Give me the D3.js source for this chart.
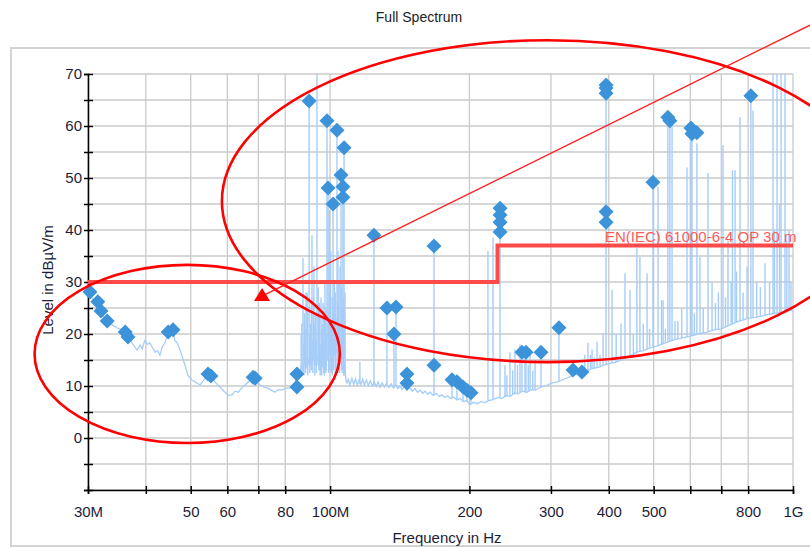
<!DOCTYPE html>
<html>
<head>
<meta charset="utf-8">
<script src="https://cdn.jsdelivr.net/npm/d3@7"></script>
<style>
  body { margin: 0; background: #fff; }
  svg { display: block; font-family: "Liberation Sans", Arial, sans-serif; }
</style>
</head>
<body>
<svg width="810" height="548"></svg>
<script>
// axis ticks
var xTicks = [30, 40, 50, 60, 70, 80, 100, 200, 300, 400, 500, 600, 700, 800, 1000];
var xTickLabels = ["30M", "", "50", "60", "", "80", "100M", "200", "300", "400", "500", "", "", "800", "1G"];
var yTicks = [-10, -5, 0, 5, 10, 15, 20, 25, 30, 35, 40, 45, 50, 55, 60, 65, 70];

// measured trace (MHz, dBuV/m) - noise floor
var baseF = [30, 30.6, 31.2, 31.8, 32.5, 33, 33.8, 34.6, 35.4, 36.1, 36.6, 37.4, 38.3, 38.9, 39.3, 39.8, 40.3, 40.8, 41.4, 41.9,
  42.4, 42.9, 43.4, 44, 44.7, 45.3, 45.8, 46.2, 46.8, 47.4, 48.2, 48.8, 49.3, 50.2, 51.1, 52.4, 53.2, 54.5, 55.3, 56.4,
  57.8, 59.3, 60.3, 61.4, 62.3, 63.3, 64.4, 65.5, 67, 68.2, 69.2, 70.6, 72, 73.4, 74.6, 76, 77.3, 78.7, 80.3, 81.9,
  83, 84, 84.8, 85.5, 86.1, 86.6, 87.4, 88.3, 89.2, 90.1, 91, 92, 93, 94, 95, 96, 97, 98, 99, 100,
  101, 102, 103, 104, 105, 106, 107, 107.7, 108.3, 108.8, 109.5, 110.4, 111.5, 112.5, 113.5, 114.5, 115.5, 116.6, 117.6, 118.6,
  119.8, 121, 122.2, 123.4, 124.6, 125.8, 127, 128.2, 129.6, 131, 132.4, 134, 135.5, 137, 138.5, 140, 141.6, 143, 144.8, 146.6,
  148.5, 150.5, 152.5, 154.5, 156.5, 158.5, 160.5, 162.5, 164.5, 167, 169.5, 172, 174.5, 177, 179.5, 182, 185, 188, 191, 194,
  197, 200.6, 204, 208, 212, 216, 220, 225, 230, 235, 240, 245, 250, 255, 260, 266, 272, 278, 285, 292,
  300, 310, 320, 330, 340, 350, 360, 370, 380, 390, 400, 415, 430, 445, 460, 475, 490, 505, 520, 540,
  560, 580, 600, 625, 650, 675, 700, 725, 750, 775, 800, 830, 860, 890, 920, 950, 975, 990, 1000];
var baseL = [28.5, 27, 26, 24.6, 23.2, 22.5, 21.8, 21.2, 20.9, 20.4, 19.6, 18.2, 16.9, 17.9, 17.2, 18.8, 18, 18.3, 17.3, 16.5,
  16.8, 15.9, 17.5, 18.3, 20.4, 21.4, 20.8, 18.8, 18.2, 17, 15, 13.5, 12.1, 11.2, 10.8, 10.2, 11, 12.3, 12, 10.8,
  9.8, 8.8, 8.2, 8.3, 9, 8.8, 9.6, 10.2, 11, 11.7, 11.2, 10.2, 9.8, 9.6, 9.2, 8.8, 9.3, 9.2, 9.6, 9.6,
  10.2, 10.5, 12.3, 11.2, 12.5, 14, 13, 15, 13.5, 15, 14, 16, 14, 15.5, 13, 14.5, 13, 15, 16, 17,
  15, 16, 17, 16, 15.5, 16, 15, 13, 11, 10.6, 11.3, 10.2, 11.5, 10.3, 11.4, 10.2, 11.2, 10.3, 11.3, 10.2,
  11.2, 10.1, 11, 10, 10.8, 9.9, 10.8, 9.8, 10.6, 9.8, 10.5, 9.7, 10.4, 9.6, 10.2, 9.5, 10, 9.3, 9.9, 9.2,
  9.7, 9, 9.5, 8.8, 9.2, 8.6, 9, 8.4, 8.8, 8.2, 8.6, 8, 8.3, 7.8, 8.1, 7.6, 7.9, 7.3, 7.6, 7,
  7.2, 6.4, 6.9, 6.6, 7, 6.8, 7.2, 7.4, 7.8, 7.6, 8.2, 8, 8.6, 8.5, 9, 8.8, 9.3, 9.2, 9.8, 10,
  10.5, 10.8, 11.3, 11.8, 12.3, 12.6, 13, 13.4, 13.6, 14, 14.3, 14.6, 15.2, 15.8, 16.5, 16.8, 17.3, 17.6, 18, 18.6,
  19, 19.3, 19.6, 20, 20.3, 20.8, 21, 21.6, 22.2, 22.6, 23, 23.2, 23.5, 23.8, 24, 24.2, 24.3, 24.8, 24.2];

// emission lines on the trace: frequency, foot level, top level
var spikeF = [86.6, 87.4, 88, 88.7, 89.2, 90.1, 90.8, 91.4, 92, 92.3, 93, 93.7, 94.3, 94.9, 95.6, 96.3, 96.6, 97.5, 98.5, 99,
  99.6, 100.3, 101.5, 102.2, 103.5, 104, 105.1, 105.6, 106.6, 107.2, 107.7, 116, 124.4, 132.7, 137.4, 138.8, 146.6, 167.7, 183.4, 188,
  193.7, 197.6, 201.6, 219.3, 224.9, 232.9, 238.7, 241, 244.7, 248, 250.9, 254, 257.2, 259.7, 263.7, 265, 268, 270.4, 274, 277.2,
  285.5, 312.2, 355, 360.6, 365, 368, 372, 377.3, 383, 388.9, 394.6, 406.5, 415, 425, 433.6, 444.5, 452, 460, 467, 475,
  483.9, 490, 498.3, 511, 520, 524, 530, 536.7, 542, 547.9, 556, 564, 575, 590.2, 602, 605, 612, 620, 629.6, 640,
  655.3, 668.5, 680, 690, 706, 715, 723.8, 735, 740, 749.5, 755, 768.2, 780, 795.6, 811, 819.6, 835, 850, 870, 890,
  905.5, 912, 923.6, 935, 942.3, 961, 970, 980.5, 990,
  86.9, 87.8, 88.5, 89.5, 90.4, 91.1, 91.8, 92.7, 93.4, 94.6, 95.2, 95.9, 96.9, 97.2, 97.9, 98.2, 99.3, 100, 100.7, 101.1,
  101.8, 102.6, 103, 103.9, 104.5, 104.8, 105.9, 106.2, 107, 107.5];
var spikeFoot = [14, 13, 14, 14, 13.5, 15, 14, 14, 16, 15, 14, 14, 15, 14, 13, 14, 14, 13, 15, 16,
  16, 17, 15, 16, 17, 16, 15.5, 15.5, 16, 15, 13, 10.3, 10, 10.5, 9.6, 10, 9.2, 8.2, 7.6, 7.3,
  7, 7.1, 6.5, 7.2, 7.4, 7.8, 7.8, 8, 8, 8.4, 8.5, 8.5, 8.7, 9, 8.8, 8.8, 9, 9.3, 9.2, 9.3,
  9.8, 10.9, 12.8, 13, 13.2, 13.3, 13.4, 13.5, 13.8, 14, 14.2, 14.4, 14.6, 15, 15.2, 15.8, 16, 16.5, 16.6, 16.8,
  17, 17.3, 17.5, 17.8, 18, 18.1, 18.3, 18.5, 18.6, 18.7, 18.9, 19, 19.2, 19.4, 19.6, 19.6, 19.8, 20, 20.1, 20.2,
  20.4, 20.6, 20.8, 20.9, 21.1, 21.3, 21.5, 21.8, 21.9, 22.2, 22.3, 22.5, 22.8, 23, 23, 23.1, 23.2, 23.4, 23.5, 23.8,
  23.9, 23.9, 24, 24, 24.1, 24.2, 24.2, 24.3, 24.6,
  12.5, 12, 12.5, 12, 12.5, 13, 12.5, 12, 12.5, 13, 12, 12, 12.5, 12, 12.5, 13, 12.5, 13, 12.5, 12,
  13, 12.5, 13, 12.5, 13, 12.5, 13, 12.5, 12, 12];
var spikeTop = [20, 34.6, 24, 28, 28, 64.8, 22, 39, 27, 33, 24, 75, 29, 26, 27, 22, 26, 30, 61, 48,
  43.8, 36, 45, 30, 59.2, 36, 33, 50.6, 48.3, 55.8, 28, 14.6, 39, 25, 20, 25.2, 12.3, 36.9, 11.2, 10.8,
  9.8, 9.2, 8.7, 36, 38.5, 44.2, 14, 12, 16.5, 13, 17, 14, 18, 16.5, 17.5, 16.5, 14, 16, 13, 15,
  16.5, 21.2, 16, 18.3, 16, 17, 15.5, 18.5, 16, 20.2, 67.9, 28.5, 20, 22, 31.7, 28.5, 20, 36.5, 34.8, 22,
  31.7, 21, 49.2, 48.3, 26.5, 26.5, 21, 61.7, 61, 59.8, 22.5, 22.5, 25, 52, 59.6, 58.5, 24, 56.7, 34.8, 25,
  51, 30, 26, 28, 56.3, 27, 38, 30, 51.5, 51.5, 32, 61.7, 28, 33, 65.8, 63, 30, 29, 33.6, 30,
  80, 40, 80, 45, 80, 80, 38, 40, 30,
  22, 18, 21, 25, 20, 26, 19, 22, 19, 22, 18, 21, 19, 23, 25, 20, 24, 28, 22, 27,
  24, 28, 23, 26, 30, 22, 29, 25, 27, 24];

// QP peak markers
var peakF = [30.3, 31.5, 32, 33, 36.1, 36.6, 44.7, 45.8, 54.5, 55.3, 68.2, 68.9, 84.8, 84.8, 90.1, 98.5, 103.5, 107.2, 105.6, 106.6,
  99, 106.6, 101.5, 124.4, 167.7, 132.7, 138.8, 137.4, 167.7, 146.6, 146.6, 183.4, 188, 193.7, 197.6, 201.6, 232.9, 232.9, 232.9, 232.9,
  259.7, 265, 285.5, 312.2, 334.8, 350, 394.6, 394.6, 394.6, 394.6, 394.6, 498.3, 536.7, 542, 602, 605, 620, 811];
var peakL = [28.1, 26.2, 24.4, 22.5, 20.4, 19.4, 20.4, 20.8, 12.3, 11.9, 11.7, 11.5, 12.3, 9.8, 64.8, 61, 59.2, 55.8, 50.6, 48.3,
  48.1, 46.3, 45, 39, 36.9, 25, 25.2, 20, 14, 12.3, 10.6, 11.2, 10.8, 9.8, 9.2, 8.7, 44.2, 42.9, 41.5, 39.6,
  16.5, 16.5, 16.5, 21.2, 13.1, 12.7, 67.9, 67.3, 66.3, 43.5, 41.5, 49.2, 61.7, 61, 59.6, 58.5, 58.7, 65.8];

// limit line EN(IEC) 61000-6-4 QP 30 m
var limitF = [30, 230, 230, 1000];
var limitL = [30, 30, 37, 37];

// hand-drawn annotations (bounds in MHz / dB)
var ringF = [[23.0, 105], [58.4, 1496]];
var ringL = [[-0.96, 33.3], [14.6, 76.5]];
var arrowF = [1088, 71.3];
var arrowL = [79.4, 27.3];

var svg = d3.select('svg');

svg.append("rect")
  .attr("width", 810).attr("height", 548).attr("fill", "#fff");

// outer panel
svg.append("rect")
  .attr("x", 11).attr("y", 48).attr("width", 830).attr("height", 498)
  .attr("fill", "#fff").attr("stroke", "#d3d3d3").attr("stroke-width", 2);

svg.append("text")
  .attr("x", 419).attr("y", 22)
  .attr("text-anchor", "middle")
  .attr("font-size", 14).attr("fill", "#222")
  .text("Full Spectrum");

var x = d3.scaleLog().domain([30, 1000]).range([88, 793]);
var y = d3.scaleLinear().domain([-10, 70]).range([490, 74]);

// grid
svg.append("g").selectAll("line")
  .data(xTicks).enter().append("line")
  .attr("x1", function(d) { return x(d); }).attr("x2", function(d) { return x(d); })
  .attr("y1", y(70)).attr("y2", y(-10))
  .attr("stroke", "#cacaca").attr("stroke-width", 1.3);
svg.append("g").selectAll("line")
  .data(yTicks).enter().append("line")
  .attr("x1", x(30)).attr("x2", x(1000))
  .attr("y1", function(d) { return y(d); }).attr("y2", function(d) { return y(d); })
  .attr("stroke", "#cacaca").attr("stroke-width", 1.3);

svg.append("clipPath").attr("id", "plot")
  .append("rect").attr("x", 88).attr("y", 74).attr("width", 705).attr("height", 416);

var plot = svg.append("g").attr("clip-path", "url(#plot)");

var trace = baseF.map(function(f, i) { return [f, baseL[i]]; });
var line = d3.line()
  .x(function(d) { return x(d[0]); })
  .y(function(d) { return y(d[1]); });

plot.append("path")
  .datum(trace)
  .attr("d", line)
  .attr("fill", "none")
  .attr("stroke", "#a6cdf8")
  .attr("stroke-width", 1.3);

plot.append("g").selectAll("line")
  .data(spikeF).enter().append("line")
  .attr("x1", function(d) { return x(d); }).attr("x2", function(d) { return x(d); })
  .attr("y1", function(d, i) { return y(spikeFoot[i]); })
  .attr("y2", function(d, i) { return y(spikeTop[i]); })
  .attr("stroke", "#a6cdf8")
  .attr("stroke-width", 1.4);

// axes
var xAxis = svg.append("g")
  .attr("transform", "translate(0," + y(-10) + ")")
  .call(d3.axisBottom(x).tickValues(xTicks).tickSizeOuter(0).tickSize(4).tickPadding(12)
    .tickFormat(function(d, i) { return xTickLabels[i]; }));
xAxis.selectAll(".tick line").attr("y1", -4).attr("y2", 4);

var yAxis = svg.append("g")
  .attr("transform", "translate(" + x(30) + ",0)")
  .call(d3.axisLeft(y).tickValues(yTicks).tickSizeOuter(0).tickSize(4).tickPadding(2)
    .tickFormat(function(d) { return (d % 10 === 0 && d > -10) ? d : ""; }));
yAxis.selectAll(".tick line").attr("x1", -4).attr("x2", 5);

[xAxis, yAxis].forEach(function(a) {
  a.select(".domain").attr("stroke", "#000").attr("stroke-width", 1.5);
  a.selectAll(".tick line").attr("stroke", "#000").attr("stroke-width", 1.5);
  a.selectAll("text").attr("font-size", 15).attr("fill", "#1d1d38")
    .attr("font-family", "'Liberation Sans', Arial, sans-serif");
});

svg.append("text")
  .attr("transform", "translate(53,280) rotate(-90)")
  .attr("text-anchor", "middle")
  .attr("font-size", 15).attr("fill", "#1d1d38")
  .text("Level in dBµV/m");

svg.append("text")
  .attr("x", 447).attr("y", 543)
  .attr("text-anchor", "middle")
  .attr("font-size", 15).attr("fill", "#1d1d38")
  .text("Frequency in Hz");

// peak diamonds
svg.append("g").selectAll("path")
  .data(peakF).enter().append("path")
  .attr("transform", function(d, i) { return "translate(" + x(d) + "," + y(peakL[i]) + ")"; })
  .attr("d", "M0,-7.5L7.5,0L0,7.5L-7.5,0Z")
  .attr("fill", "#3d93d9");

// limit line
var limit = limitF.map(function(f, i) { return [f, limitL[i]]; });
svg.append("path")
  .datum(limit)
  .attr("d", line)
  .attr("fill", "none")
  .attr("stroke", "#ff4a4a")
  .attr("stroke-width", 4);

svg.append("text")
  .attr("x", 605).attr("y", 242)
  .attr("font-size", 15).attr("fill", "#ff5a5a")
  .text("EN(IEC) 61000-6-4 QP 30 m");

// red annotation rings
svg.append("g").selectAll("ellipse")
  .data(ringF).enter().append("ellipse")
  .attr("cx", function(d) { return (x(d[0]) + x(d[1])) / 2; })
  .attr("cy", function(d, i) { return (y(ringL[i][0]) + y(ringL[i][1])) / 2; })
  .attr("rx", function(d) { return (x(d[1]) - x(d[0])) / 2; })
  .attr("ry", function(d, i) { return (y(ringL[i][0]) - y(ringL[i][1])) / 2; })
  .attr("fill", "none")
  .attr("stroke", "#ff0000")
  .attr("stroke-width", 2.6);

// arrow
svg.append("line")
  .attr("x1", x(arrowF[0])).attr("y1", y(arrowL[0]))
  .attr("x2", x(arrowF[1])).attr("y2", y(arrowL[1]))
  .attr("stroke", "#ff2020").attr("stroke-width", 1.4);
svg.append("path")
  .attr("transform", "translate(" + x(arrowF[1]) + "," + y(arrowL[1]) + ")")
  .attr("d", "M0,-8L8,5L-8,5Z")
  .attr("fill", "#ff0000");
</script>
</body>
</html>
